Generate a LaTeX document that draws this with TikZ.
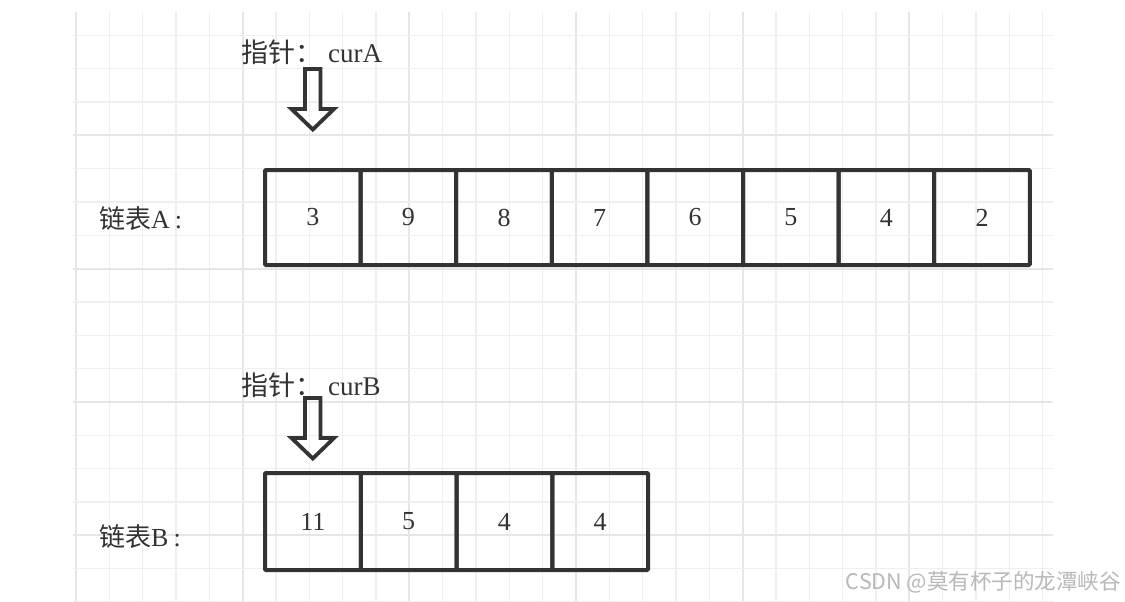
\documentclass[tikz,border=0pt]{standalone}
\usepackage{fontspec}
\setmainfont{Liberation Serif}
\newfontfamily\cjk{Noto Sans CJK SC}
\usetikzlibrary{positioning}
\definecolor{gridc}{HTML}{EFEFEF}
\definecolor{gridm}{HTML}{E6E6E6}
\definecolor{ink}{HTML}{333333}
\definecolor{wm}{HTML}{B8B8B8}
\tikzset{
  cell/.style={draw=ink, line width=4pt, rounded corners=1pt, minimum width=95.6pt, minimum height=95pt, inner sep=0pt, outer sep=0pt, font=\fontsize{26}{30}\selectfont, text=ink},
  cellb/.style={cell, minimum width=95.75pt, minimum height=97pt},
  lbl/.style={inner sep=0pt, anchor=west, text=ink, font=\fontsize{26}{30}\selectfont},
  ptr/.style={draw=ink, line width=3.8pt, line join=miter},
}
\begin{document}
\begin{tikzpicture}[x=1pt,y=-1pt]
\useasboundingbox (0,0) rectangle (1125,602);
\fill[white] (0,0) rectangle (1125,602);
% grid
\foreach \k in {0,...,29}{
  \pgfmathsetmacro\xx{76+33.333*\k}
  \pgfmathtruncatemacro\m{mod(\k,5)}
  \ifnum\m=0
    \draw[gridm, line width=2pt] (\xx,12) -- (\xx,602);
  \else
    \draw[gridc, line width=1.5pt] (\xx,12) -- (\xx,602);
  \fi
}
\foreach \k in {0,...,17}{
  \pgfmathsetmacro\yy{35.3+33.333*\k}
  \pgfmathtruncatemacro\m{mod(\k,4)}
  \ifnum\m=3
    \draw[gridm, line width=2pt] (73,\yy) -- (1053,\yy);
  \else
    \draw[gridc, line width=1.5pt] (73,\yy) -- (1053,\yy);
  \fi
}
% list A
\foreach \v [count=\i from 0] in {3,9,8,7,6,5,4,2}{
  \node[cell] (a\i) at ({312.8+95.6*\i},217.5) {\v};
}
% list B
\foreach \v [count=\i from 0] in {11,5,4,4}{
  \node[cellb] (b\i) at ({312.9+95.75*\i},521.5) {\v};
}
% labels
\node[lbl] (la) at (99,219) {{\cjk 链表}A\kern5pt:};
\node[lbl] (lb) at (99,537) {{\cjk 链表}B\kern5pt:};
\node[lbl, font=\fontsize{27}{30}\selectfont] (pa) at (241,52) {{\cjk 指针：}\kern6pt curA};
\node[lbl, font=\fontsize{27}{30}\selectfont] (pb) at (241,385) {{\cjk 指针：}\kern6pt curB};
% pointer arrows
\draw[ptr] (305,69) -- (320.5,69) -- (320.5,109) -- (334,109) -- (312.8,129.5) -- (291.5,109) -- (305,109) -- cycle;
\draw[ptr] (305,398) -- (320.5,398) -- (320.5,438) -- (334,438) -- (312.8,458.5) -- (291.5,438) -- (305,438) -- cycle;
% watermark
\node[inner sep=0pt, anchor=east, text=wm, font=\cjk\fontsize{21.5}{24}\selectfont] (wmk) at (1121,582) {CSDN @莫有杯子的龙潭峡谷};
\end{tikzpicture}
\end{document}
